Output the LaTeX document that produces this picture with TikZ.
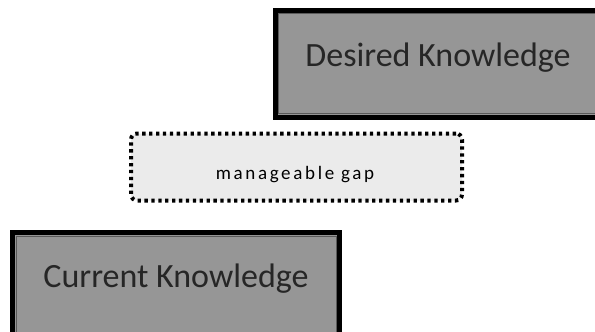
\documentclass[tikz,border=0pt]{standalone}
\usepackage{fontspec}
\setmainfont{Carlito}
\newfontfamily\gapfont[LetterSpace=14]{Carlito}
\definecolor{boxgray}{HTML}{969696}
\definecolor{gapgray}{HTML}{EBEBEB}
\definecolor{edgegray}{HTML}{5A5A5A}
\begin{document}
\begin{tikzpicture}[x=1pt,y=-1pt,
  kbox/.style={draw=black, line width=5pt, fill=boxgray, rectangle, inner sep=0pt},
  kedge/.style={draw=edgegray, line width=1pt, rectangle, inner sep=0pt},
  klabel/.style={font=\fontsize{34}{38}\selectfont, text=black!85},
  gapbox/.style={draw=black, line width=4pt, dash pattern=on 3.3pt off 3.6pt,
    fill=gapgray, rounded corners=6pt, rectangle, inner sep=0pt},
  gaplabel/.style={font=\gapfont\fontsize{19}{21}\selectfont, text=black}]
  \useasboundingbox (0,0) rectangle (595,332);
  \clip (0,0) rectangle (595,332);
  \fill[white] (0,0) rectangle (595,332);
  % desired knowledge box (runs past the right edge)
  \node (desired) [kbox, minimum width=330pt, minimum height=107pt] at (440,63.5) {};
  \node (desiredin) [kedge, minimum width=323pt, minimum height=100pt] at (440,63.5) {};
  \node (desiredtxt) [klabel] at (438,58) {Desired Knowledge};
  % the gap between the two
  \node (gap) [gapbox, minimum width=331pt, minimum height=67pt] at (296.5,167) {};
  \node (gaptxt) [gaplabel] at (295,175) {manageable gap};
  % current knowledge box (runs past the bottom edge)
  \node (current) [kbox, minimum width=327pt, minimum height=113pt] at (176,289) {};
  \node (currentin) [kedge, minimum width=320pt, minimum height=106pt] at (176,289) {};
  \node (currenttxt) [klabel] at (176,279) {Current Knowledge};
\end{tikzpicture}
\end{document}
